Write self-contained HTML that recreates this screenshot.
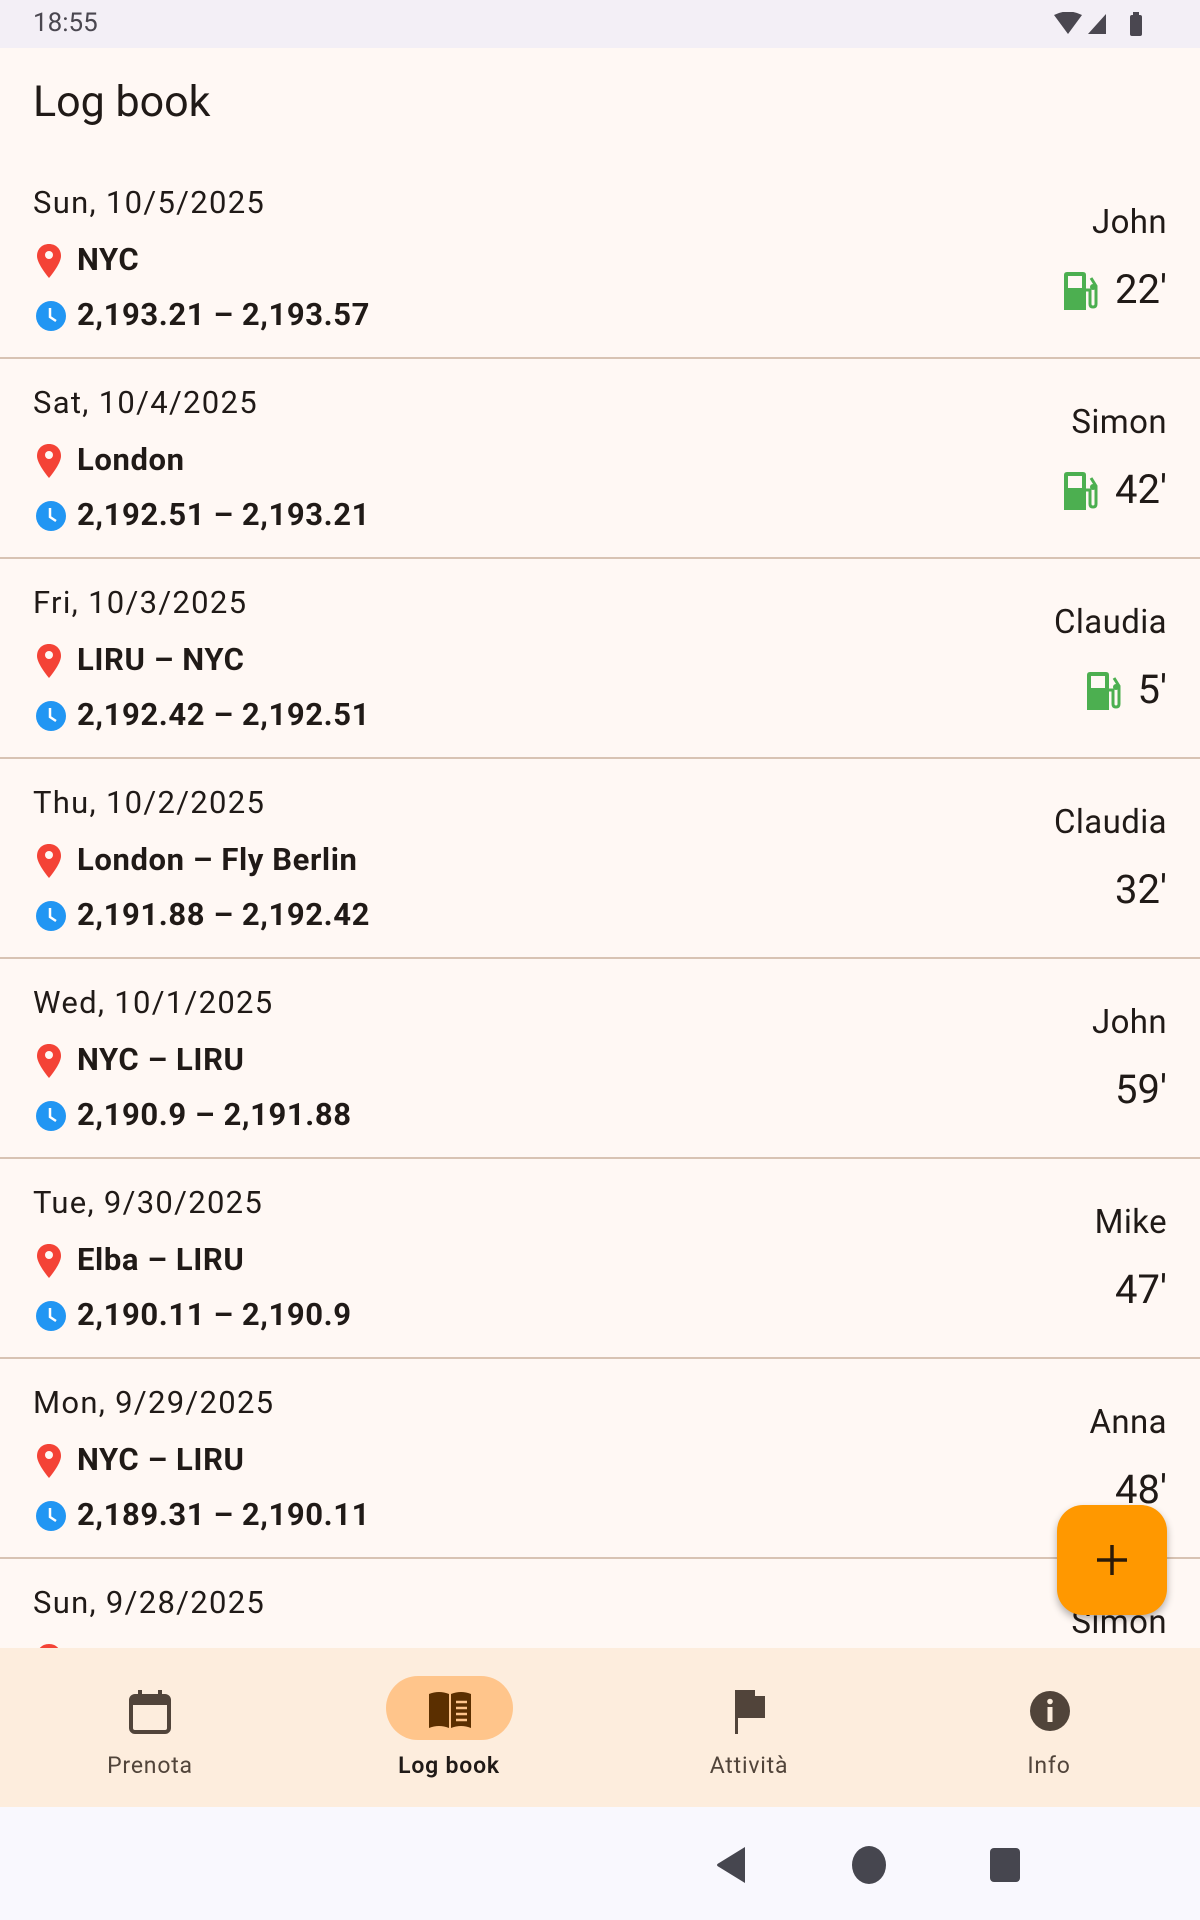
<!DOCTYPE html>
<html><head><meta charset="utf-8">
<style>
*{margin:0;padding:0;box-sizing:border-box}
body{width:1200px;height:1920px;position:relative;overflow:hidden;background:#fff8f4;font-family:"Roboto","Liberation Sans",sans-serif;color:#201a17}
.abs{position:absolute}
#status{left:0;top:0;width:1200px;height:48px;background:#f3eff6}
#time{left:33px;top:8px;font-size:26px;color:#4a4750}
#title{left:33px;top:74px;font-size:43px;color:#201a17;line-height:56px}
#list{left:0;top:159px;width:1200px;height:1489px;overflow:hidden}
.row{position:absolute;left:0;width:1200px;height:200px;border-bottom:2px solid #d8c3b3}
.date{position:absolute;left:33px;top:26px;font-size:31px;letter-spacing:1.3px;line-height:36px}
.loc{position:absolute;left:77px;top:83px;font-size:31px;font-weight:bold;letter-spacing:0.6px;line-height:36px}
.tm{position:absolute;left:77px;top:138px;font-size:31px;font-weight:bold;letter-spacing:0.6px;line-height:36px}
.pin{position:absolute;left:37px;top:85px}
.clk{position:absolute;left:35px;top:141px}
.name{position:absolute;right:33px;top:45px;font-size:33px;line-height:38px;letter-spacing:0.4px}
.dur{position:absolute;right:33px;top:108px;font-size:40px;line-height:46px}
.fuel{position:absolute;top:113px}
#fab{left:1057px;top:1505px;width:110px;height:110px;border-radius:26px;background:#ff9800;box-shadow:0 4px 8px rgba(0,0,0,.3)}
#nav{left:0;top:1648px;width:1200px;height:159px;background:#fdeddd}
.nl{position:absolute;top:104px;width:200px;text-align:center;font-size:23px;letter-spacing:0.8px;color:#51443a}
#sys{left:0;top:1807px;width:1200px;height:113px;background:#f9f8fe}
</style></head><body>
<div id="status" class="abs">
  <div id="time" class="abs">18:55</div>
  <svg class="abs" style="left:1054px;top:12px" width="100" height="26">
    <path d="M0 3 Q14 -4 28 3 L14 22 Z" fill="#4a4750"/>
    <path d="M34 22 L52 2 L52 22 Z" fill="#4a4750"/>
    <rect x="76" y="3" width="12" height="21" rx="2" fill="#4a4750"/><rect x="79" y="0" width="6" height="4" fill="#4a4750"/>
  </svg>
</div>
<div id="title" class="abs">Log book</div>
<div id="list" class="abs"></div>
<div id="fab" class="abs">
  <svg width="110" height="110"><path d="M55 40V70M40 55H70" stroke="#2b1a08" stroke-width="3.5"/></svg>
</div>
<div id="nav" class="abs">
  <div class="abs" style="left:386px;top:28px;width:127px;height:64px;border-radius:32px;background:#ffc58b"></div>
  <svg class="abs" style="left:128px;top:42px" width="44" height="44"><rect x="3" y="6" width="38" height="36" rx="4" fill="none" stroke="#51443a" stroke-width="4"/><rect x="3" y="6" width="38" height="9" fill="#51443a"/><rect x="10" y="0" width="4" height="8" fill="#51443a"/><rect x="30" y="0" width="4" height="8" fill="#51443a"/></svg>
  <svg class="abs" style="left:427px;top:42px" width="46" height="40"><path d="M2 4 Q12 0 22 4 L22 38 Q12 34 2 38 Z M24 4 Q34 0 44 4 L44 38 Q34 34 24 38 Z" fill="#5b2f00"/><path d="M29 12H40M29 18H40M29 24H40M29 30H40" stroke="#ffc58b" stroke-width="2.5"/></svg>
  <svg class="abs" style="left:733px;top:42px" width="36" height="44"><rect x="2" y="0" width="3" height="44" fill="#51443a"/><path d="M5 0H22V6H32V28H5Z" fill="#51443a"/></svg>
  <svg class="abs" style="left:1029px;top:42px" width="42" height="42"><circle cx="21" cy="21" r="20" fill="#51443a"/><rect x="18.5" y="17" width="5" height="15" fill="#fdeddd"/><circle cx="21" cy="11.5" r="2.8" fill="#fdeddd"/></svg>
  <div class="nl" style="left:50px">Prenota</div>
  <div class="nl" style="left:349px;color:#201a17;font-weight:600">Log book</div>
  <div class="nl" style="left:649px">Attività</div>
  <div class="nl" style="left:949px">Info</div>
</div>
<div id="sys" class="abs">
  <svg class="abs" style="left:715px;top:38px" width="320" height="40">
    <path d="M30 2 L30 38 L4 22 Q0 20 4 18 Z" fill="#46464f"/>
    <ellipse cx="154" cy="20" rx="17" ry="19" fill="#46464f"/>
    <rect x="275" y="3" width="30" height="34" rx="4" fill="#46464f"/>
  </svg>
</div>
<script>
const dates=["Sun, 10/5/2025","Sat, 10/4/2025","Fri, 10/3/2025","Thu, 10/2/2025","Wed, 10/1/2025","Tue, 9/30/2025","Mon, 9/29/2025","Sun, 9/28/2025"];
const places=["NYC","London","LIRU – NYC","London – Fly Berlin","NYC – LIRU","Elba – LIRU","NYC – LIRU",""];
const ranges=["2,193.21 – 2,193.57","2,192.51 – 2,193.21","2,192.42 – 2,192.51","2,191.88 – 2,192.42","2,190.9 – 2,191.88","2,190.11 – 2,190.9","2,189.31 – 2,190.11",""];
const pilots=["John","Simon","Claudia","Claudia","John","Mike","Anna","Simon"];
const durations=["22'","42'","5'","32'","59'","47'","48'",""];
const fueled=[true,true,true,false,false,false,false,false];
const list=document.getElementById('list');
const pinSvg='<svg width="24" height="34"><path d="M12 0C5 0 0 5 0 12c0 8 12 22 12 22s12-14 12-22C24 5 19 0 12 0z" fill="#f44336"/><circle cx="12" cy="11" r="4" fill="#fff8f4"/></svg>';
const clkSvg='<svg width="32" height="32"><circle cx="16" cy="16" r="15" fill="#2196f3"/><path d="M15 8V17L21 21" stroke="#fff" stroke-width="2.5" fill="none"/></svg>';
const fuelSvg='<svg width="36" height="38"><path d="M1 3Q1 0 4 0H20Q23 0 23 3V38H1Z" fill="#4caf50"/><rect x="5" y="4" width="14" height="12" fill="#fff8f4"/><path d="M23 18H27V32Q27 35 30 35Q33 35 33 32V14L28 6" stroke="#4caf50" stroke-width="3" fill="none"/><circle cx="30" cy="15" r="3" fill="#4caf50"/></svg>';
for(let i=0;i<dates.length;i++){
  const r=document.createElement('div');r.className='row';r.style.top=(i*200)+'px';
  
  
  let h='<div class="date">'+dates[i]+'</div>';
  h+='<div class="pin">'+pinSvg+'</div>';
  if(places[i])h+='<div class="loc">'+places[i]+'</div>';
  if(ranges[i]){h+='<div class="clk">'+clkSvg+'</div>';
  h+='<div class="tm">'+ranges[i]+'</div>';}
  h+='<div class="name">'+pilots[i]+'</div>';
  if(durations[i])h+='<div class="dur">'+durations[i]+'</div>';
  r.innerHTML=h;
  list.appendChild(r);
  if(fueled[i]){
    const d=r.querySelector('.dur');
    const f=document.createElement('div');f.className='fuel';f.innerHTML=fuelSvg;
    
    
    r.appendChild(f);
    f.style.left=(1200-33-d.offsetWidth-16-36)+'px';
  }
}
</script>
</body></html>
